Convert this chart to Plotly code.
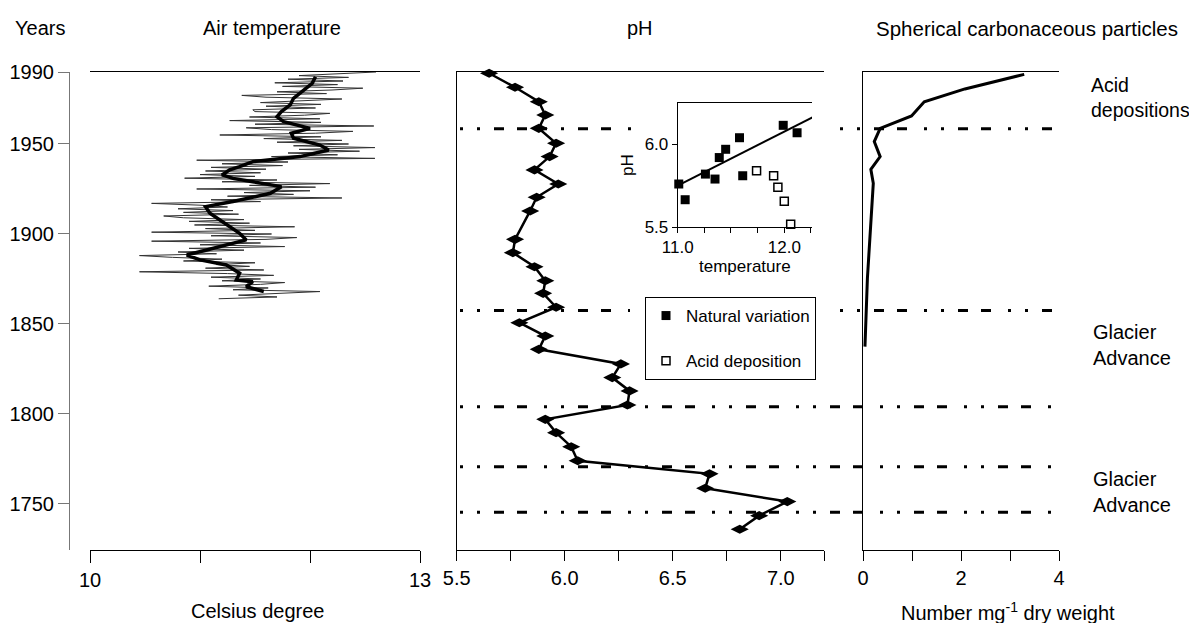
import plotly.graph_objects as go

FONT = 'Liberation Sans, Arial, sans-serif'
W, H = 1189, 623

# --- data ---
# Air temperature, annual values 1864-1990 (deg C)
temp_years = list(range(1864, 1991))
temp_annual = [
    11.17, 11.70, 11.35, 11.80, 12.09, 11.30, 11.62, 11.08, 11.55, 11.77,
    11.20, 11.55, 11.10, 11.67, 11.25, 10.45, 11.58, 11.05, 11.45, 11.15,
    11.50, 10.85, 11.20, 10.75, 10.45, 11.15, 10.80, 11.40, 10.90, 11.77,
    11.00, 11.55, 10.56, 11.60, 11.88, 11.10, 11.65, 10.56, 11.50, 11.05,
    11.86, 10.95, 11.45, 10.90, 11.40, 10.85, 10.67, 11.35, 10.85, 11.30,
    10.80, 11.25, 11.00, 10.56, 11.55, 11.10, 12.29, 11.25, 11.85, 11.40,
    12.00, 10.97, 12.05, 11.45, 12.18, 11.20, 11.70, 10.86, 11.50, 11.00,
    11.55, 11.05, 11.60, 11.10, 11.75, 11.20, 11.80, 10.97, 12.59, 11.65,
    12.25, 11.80, 12.45, 11.90, 12.59, 11.85, 12.35, 11.70, 12.29, 11.58,
    12.10, 11.18, 12.05, 12.39, 11.65, 11.42, 12.58, 11.50, 12.10, 11.27,
    12.09, 11.45, 11.95, 12.18, 11.50, 11.48, 12.05, 11.60, 12.10, 11.55,
    12.00, 12.29, 11.60, 11.38, 12.15, 11.70, 12.20, 12.48, 11.75, 12.25,
    11.68, 12.30, 11.80, 12.35, 11.90, 12.20, 12.60,
]
# running mean
smooth_years = [1868, 1870.7, 1873.5, 1874.4, 1878.2, 1882.8, 1885.6, 1888.3, 1891.1, 1893.9,
                1896.7, 1900.4, 1904.1, 1907.8, 1911.5, 1915.2, 1918, 1922.6, 1926.3, 1929,
                1930.9, 1932.8, 1935.6, 1937.4, 1940.2, 1943, 1946.7, 1949.4, 1953.2, 1956,
                1958.7, 1962.4, 1965.2, 1968, 1971.7, 1975.4, 1979, 1983.7, 1987.4]
smooth_temp = [11.58, 11.42, 11.48, 11.33, 11.36, 11.24, 11.00, 10.88, 11.06, 11.24,
               11.42, 11.36, 11.27, 11.18, 11.09, 11.05, 11.30, 11.64, 11.74, 11.48,
               11.30, 11.20, 11.27, 11.36, 11.48, 11.91, 12.17, 12.09, 11.85, 11.83,
               12.00, 11.76, 11.70, 11.74, 11.82, 11.85, 11.92, 12.02, 12.05]

# pH profile
ph_years = [1989.3, 1981.5, 1973.5, 1966.1, 1958.7, 1950.4, 1943.0, 1935.6, 1927.8, 1920.4,
            1912.8, 1897.0, 1889.6, 1881.8, 1874.0, 1867.0, 1859.3, 1850.7, 1843.3, 1835.9,
            1827.8, 1820.2, 1812.8, 1805.0, 1797.0, 1789.6, 1781.8, 1774.0, 1766.7, 1758.7,
            1751.3, 1743.5, 1735.9]
ph_values = [5.65, 5.77, 5.88, 5.91, 5.88, 5.96, 5.93, 5.86, 5.97, 5.87,
             5.84, 5.77, 5.76, 5.86, 5.91, 5.90, 5.96, 5.79, 5.91, 5.88,
             6.26, 6.22, 6.30, 6.29, 5.91, 5.96, 6.03, 6.06, 6.67, 6.65,
             7.03, 6.90, 6.81]

# spherical carbonaceous particles (number per mg dry weight)
scp_years = [1988.7, 1980.6, 1973.5, 1965.6, 1958.7, 1951.3, 1943.0, 1935.9, 1928.2, 1913.3, 1875.4, 1837.4]
scp_values = [3.29, 2.08, 1.25, 0.99, 0.35, 0.23, 0.35, 0.16, 0.21, 0.18, 0.09, 0.04]

# inset: pH against temperature
nat_temp = [11.01, 11.07, 11.26, 11.35, 11.39, 11.45, 11.58, 11.61, 11.99, 12.12]
nat_ph = [5.76, 5.665, 5.82, 5.79, 5.92, 5.97, 6.04, 5.81, 6.115, 6.07]
acid_temp = [11.74, 11.90, 11.94, 12.00, 12.06]
acid_ph = [5.84, 5.81, 5.74, 5.655, 5.516]
trend_temp = [11.0, 12.27]
trend_ph = [5.75, 6.165]

# boundaries between periods
zone_years = [1958.5, 1857.5, 1804.0, 1770.7, 1745.4]

year_ticks = [1750, 1800, 1850, 1900, 1950, 1990]


def fx(px):
    return px / W


def fy(py):
    return 1 - py / H


Y_DOMAIN = [fy(550), fy(72)]
Y_RANGE = [1724.4, 1990]

fig = go.Figure()

# air temperature panel
fig.add_trace(go.Scatter(x=temp_annual, y=temp_years, mode='lines', xaxis='x', yaxis='y',
                         line=dict(color='#333', width=1), showlegend=False))
fig.add_trace(go.Scatter(x=smooth_temp, y=smooth_years, mode='lines', xaxis='x', yaxis='y',
                         line=dict(color='black', width=3.5), showlegend=False))

# pH panel
fig.add_trace(go.Scatter(x=ph_values, y=ph_years, mode='lines+markers', xaxis='x2', yaxis='y3',
                         line=dict(color='black', width=2.5),
                         marker=dict(symbol='diamond-wide', size=13, color='black'),
                         cliponaxis=False, showlegend=False))

# SCP panel
fig.add_trace(go.Scatter(x=scp_values, y=scp_years, mode='lines', xaxis='x3', yaxis='y4',
                         line=dict(color='black', width=3), cliponaxis=False, showlegend=False))

# inset
fig.add_trace(go.Scatter(x=nat_temp, y=nat_ph, mode='markers', xaxis='x4', yaxis='y5',
                         name='Natural variation', legendgroup='a',
                         marker=dict(symbol='square', size=9, color='black'), cliponaxis=False))
fig.add_trace(go.Scatter(x=acid_temp, y=acid_ph, mode='markers', xaxis='x4', yaxis='y5',
                         name='Acid deposition', legendgroup='b',
                         marker=dict(symbol='square-open', size=8, color='black', line=dict(width=1.5)),
                         cliponaxis=False))
fig.add_trace(go.Scatter(x=trend_temp, y=trend_ph, mode='lines', xaxis='x4', yaxis='y5',
                         line=dict(color='black', width=2), showlegend=False, cliponaxis=False))

base = dict(showgrid=False, zeroline=False, color='black', linecolor='black', linewidth=1,
            tickcolor='black', tickfont=dict(size=20, family=FONT, color='black'))
hidden_y = dict(base, domain=Y_DOMAIN, range=Y_RANGE, showline=True, ticks='',
                showticklabels=False)

fig.update_layout(
    width=W, height=H,
    margin=dict(l=0, r=0, t=0, b=0),
    paper_bgcolor='white', plot_bgcolor='rgba(0,0,0,0)',
    template='none',
    font=dict(family=FONT, size=20, color='black'),
    xaxis=dict(base, domain=[fx(90), fx(420)], range=[10, 13], anchor='y2',
               showline=True, mirror=True, ticks='outside', ticklen=12,
               tickvals=[10, 11, 12, 13], ticktext=['10', ' ', ' ', '13']),
    yaxis=dict(base, domain=Y_DOMAIN, range=Y_RANGE, anchor='free', position=fx(69),
               showline=True, linecolor='#777', tickcolor='#777', ticks='outside', ticklen=11,
               tickvals=year_ticks),
    yaxis2=dict(hidden_y, anchor='x', overlaying='y'),
    xaxis2=dict(base, domain=[fx(456.7), fx(824)], range=[5.5, 7.2], anchor='y3',
                showline=True, mirror=True, ticks='outside', ticklen=10,
                tickvals=[5.5, 5.75, 6.0, 6.25, 6.5, 6.75, 7.0, 7.2],
                ticktext=['5.5', ' ', '6.0', ' ', '6.5', ' ', '7.0', ' ']),
    yaxis3=dict(hidden_y, anchor='x2'),
    xaxis3=dict(base, domain=[fx(863), fx(1059)], range=[0, 4], anchor='y4',
                showline=True, mirror=True, ticks='outside', ticklen=10,
                tickvals=[0, 1, 2, 3, 4], ticktext=['0', ' ', '2', ' ', '4']),
    yaxis4=dict(hidden_y, anchor='x3'),
    xaxis4=dict(base, domain=[fx(677.7), fx(812)], range=[11.0, 12.26], anchor='y5',
                showline=True, mirror=True, ticks='outside', ticklen=5,
                tickvals=[11.0, 11.25, 11.5, 11.75, 12.0, 12.25],
                ticktext=['11.0', ' ', ' ', ' ', '12.0', ' '],
                tickfont=dict(size=17, family=FONT, color='black'),
                title=dict(text='temperature', font=dict(size=17, family=FONT), standoff=2)),
    yaxis5=dict(base, domain=[fy(227), fy(103)], range=[5.5, 6.25], anchor='x4',
                showline=True, ticks='outside', ticklen=5,
                tickvals=[5.5, 6.0], ticktext=['5.5', '6.0'],
                tickfont=dict(size=17, family=FONT, color='black'),
                title=dict(text='pH', font=dict(size=17, family=FONT), standoff=6)),
    legend=dict(x=fx(645), y=fy(297), xanchor='left', yanchor='top',
                bgcolor='white', bordercolor='black', borderwidth=1,
                font=dict(size=17, family=FONT), tracegroupgap=20),
)

# dash-dot period boundaries
dash = '3px,14px,3px,14px,10px,13px,10px,17px'
segments = [[(460, 645), (840, 1053)], [(460, 630), (840, 1053)],
            [(460, 1053)], [(460, 1053)], [(460, 1053)]]
for yr, segs in zip(zone_years, segments):
    for x0, x1 in segs:
        fig.add_shape(type='line', xref='paper', yref='y', x0=fx(x0), x1=fx(x1), y0=yr, y1=yr,
                      line=dict(color='black', width=3, dash=dash))

# text labels
labels = [
    ('Years', 40, 28, 'center', 20),
    ('Air temperature', 272, 28, 'center', 20),
    ('pH', 640, 28, 'center', 20),
    ('Spherical carbonaceous particles', 874, 28, 'left', 20.5),
    ('Celsius degree', 257, 611, 'center', 20),
    ('Number mg<sup>-1</sup> dry weight', 1008, 611, 'center', 20),
    ('Acid<br>depositions', 1089, 97, 'left', 19.5),
    ('Glacier<br>Advance', 1091, 345, 'left', 20),
    ('Glacier<br>Advance', 1091, 492, 'left', 20),
]
for text, x, y, anchor, size in labels:
    fig.add_annotation(text=text, x=fx(x), y=fy(y), xref='paper', yref='paper',
                       xanchor=anchor, yanchor='middle', showarrow=False, align='left',
                       font=dict(size=size, family=FONT, color='black'))

# the page's default body margin would shift the figure off the window
fig.write_html('out.html', config={'displayModeBar': False},
               post_script="document.body.style.margin='0';")
